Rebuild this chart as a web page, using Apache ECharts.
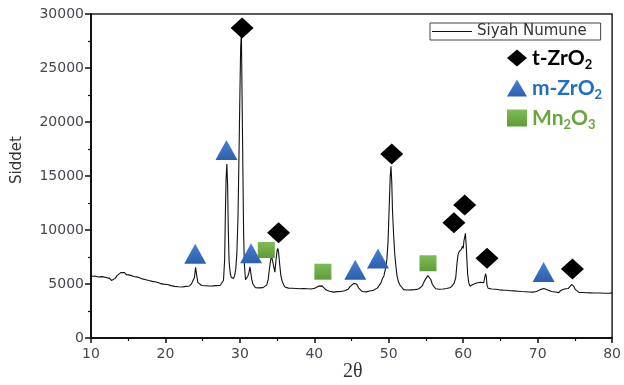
<!DOCTYPE html>
<html>
<head>
<meta charset="utf-8">
<script src="https://cdn.jsdelivr.net/npm/echarts@6/dist/echarts.min.js"></script>
<style>
html,body{margin:0;padding:0;background:#fff;}
#chart{width:624px;height:385px;}
</style>
</head>
<body>
<div id="chart"></div>
<script>
// X-ray diffraction pattern: 2θ (degrees) and intensity (counts)
var twoTheta = [
10.0,10.25,10.5,10.75,11.0,11.25,11.5,11.75,12.0,12.25,12.5,12.75,13.0,13.25,13.5,13.75,14.0,14.25,14.5,14.75,
15.0,15.25,15.5,15.75,16.0,16.25,16.5,16.75,17.0,17.25,17.5,17.75,18.0,18.25,18.5,18.75,19.0,19.25,19.5,19.75,
20.0,20.25,20.5,20.75,21.0,21.25,21.5,21.75,22.0,22.25,22.5,22.75,23.0,23.25,23.5,23.75,23.9,24.05,24.2,24.35,
24.6,24.85,25.1,25.35,25.6,25.85,26.1,26.35,26.6,26.85,27.1,27.35,27.6,27.8,27.95,28.05,28.15,28.25,28.35,28.45,
28.55,28.7,28.85,29.0,29.15,29.3,29.45,29.6,29.75,29.9,30.0,30.1,30.2,30.3,30.4,30.5,30.6,30.75,30.9,31.05,
31.2,31.35,31.45,31.6,31.75,31.9,32.1,32.35,32.6,32.85,33.1,33.35,33.6,33.8,33.95,34.1,34.25,34.4,34.55,34.7,
34.85,35.0,35.1,35.2,35.35,35.5,35.7,35.9,36.1,36.3,36.55,36.8,37.05,37.3,37.55,37.8,38.05,38.3,38.55,38.8,
39.05,39.3,39.55,39.8,40.05,40.3,40.55,40.8,41.05,41.3,41.55,41.8,42.05,42.3,42.55,42.8,43.05,43.3,43.55,43.8,
44.05,44.3,44.55,44.8,45.05,45.3,45.5,45.7,45.95,46.2,46.45,46.7,46.95,47.2,47.45,47.7,47.95,48.2,48.45,48.7,
48.95,49.15,49.35,49.55,49.75,49.9,50.05,50.2,50.3,50.4,50.5,50.65,50.8,50.95,51.1,51.3,51.5,51.75,52.0,52.25,
52.5,52.75,53.0,53.25,53.5,53.75,54.0,54.25,54.5,54.75,55.0,55.25,55.45,55.65,55.85,56.05,56.3,56.55,56.8,57.05,
57.3,57.55,57.8,58.05,58.3,58.55,58.8,59.0,59.15,59.3,59.45,59.6,59.75,59.9,60.0,60.1,60.2,60.3,60.4,60.5,
60.6,60.75,60.9,61.05,61.3,61.55,61.8,62.05,62.3,62.55,62.75,62.9,63.0,63.1,63.2,63.35,63.6,63.85,64.1,64.35,
64.6,64.85,65.1,65.35,65.6,65.85,66.1,66.35,66.6,66.85,67.1,67.35,67.6,67.85,68.1,68.35,68.6,68.85,69.1,69.35,
69.6,69.85,70.1,70.35,70.6,70.85,71.1,71.35,71.6,71.85,72.1,72.35,72.6,72.85,73.1,73.35,73.6,73.85,74.1,74.35,
74.55,74.7,74.85,75.05,75.3,75.55,75.8,76.05,76.3,76.55,76.8,77.05,77.3,77.55,77.8,78.05,78.3,78.55,78.8,79.05,
79.3,79.55,79.8,80.0
];
var intensity = [
5700,5560,5740,5600,5650,5520,5680,5540,5600,5450,5520,5330,5470,5520,5780,5820,6050,5880,6060,5870,
5930,5820,5860,5700,5820,5640,5680,5500,5620,5420,5500,5320,5430,5240,5300,5180,5230,5060,5180,4990,
5080,4960,5020,4850,4990,4780,4860,4740,4830,4720,4900,4780,4950,4820,5020,5150,5600,6550,5800,5150,
5050,4860,5040,4840,5000,4820,4980,4830,5010,4850,4980,4860,5040,5350,7200,11500,14800,16100,14200,9800,
7100,6000,5600,5450,5520,5800,6400,7900,11300,17800,22500,26800,28300,22000,15800,9800,6900,5400,5350,5700,
6000,6600,6500,5400,5000,4850,4650,4820,4640,4790,4660,4810,4900,5400,6300,7100,7600,7450,6600,6100,
7200,8100,8300,7900,6800,5800,5200,4900,4700,4560,4620,4480,4600,4440,4580,4400,4560,4420,4580,4430,
4560,4400,4540,4420,4600,4600,4800,4920,4830,4660,4460,4480,4330,4350,4250,4420,4290,4450,4310,4440,
4380,4500,4520,4760,4850,5060,5080,4980,4620,4510,4300,4360,4270,4420,4350,4510,4420,4600,4620,4850,
5100,5500,5750,6400,7300,8900,12000,15000,15900,14500,11800,9600,7800,6700,5800,5200,4900,4700,4480,4620,
4440,4600,4460,4620,4480,4650,4540,4720,4820,5220,5520,5780,5680,5420,4980,4780,4560,4620,4520,4660,
4540,4680,4580,4740,4680,4880,5100,5600,6800,7700,8000,7950,8200,8500,8300,9000,8900,9700,8600,7200,
5900,5100,4800,4750,4950,5000,5100,5020,5160,5000,5120,5300,5950,5700,4900,4600,4740,4540,4680,4520,
4660,4460,4620,4430,4580,4420,4560,4380,4520,4360,4480,4330,4460,4300,4440,4280,4420,4260,4390,4250,
4400,4300,4460,4480,4600,4580,4600,4440,4440,4300,4300,4260,4300,4200,4400,4380,4540,4420,4580,4700,
4950,5100,4800,4500,4340,4220,4360,4210,4340,4190,4320,4180,4310,4170,4300,4170,4290,4160,4280,4150,
4270,4150,4250,4180
];

// Phase markers (2θ, intensity position)
var tZrO2X = [30.3, 35.2, 50.4, 58.75, 60.2, 63.2, 74.67];
var tZrO2Y = [28700, 9750, 17040, 10680, 12320, 7380, 6390];
var mZrO2X = [24.0, 28.2, 31.5, 45.5, 48.55, 70.8];
var mZrO2Y = [7800, 17400, 7850, 6320, 7350, 6100];
var mn2o3X = [33.55, 41.15, 55.27];
var mn2o3Y = [8150, 6140, 6920];

// Axis ticks
var xTicks = [10, 20, 30, 40, 50, 60, 70, 80];
var yTicks = [0, 5000, 10000, 15000, 20000, 25000, 30000];

function pairs(xs, ys) { return xs.map(function (x, i) { return [x, ys[i]]; }); }

var chart = echarts.init(document.getElementById('chart'), null, {renderer: 'canvas'});
var labelColor = '#4b4450';
var axisFont = 'DejaVu Sans';

function sub(color) {
  return {fontFamily: 'Lato', fontWeight: 'bold', fontSize: 13, lineHeight: 13,
    verticalAlign: 'top', padding: [11, 0, 0, 0], color: color};
}
function main(color) {
  return {fontFamily: 'Lato', fontWeight: 'bold', fontSize: 21, lineHeight: 22, color: color};
}

var option = {
  animation: false,
  backgroundColor: '#fff',
  grid: {left: 91, right: 7, top: 14, bottom: 47, show: true, borderColor: '#222', borderWidth: 1.5},
  xAxis: {
    type: 'value', min: xTicks[0], max: xTicks[xTicks.length - 1], interval: xTicks[1] - xTicks[0],
    axisLine: {lineStyle: {color: '#111', width: 2}},
    axisTick: {length: 5, lineStyle: {color: '#111', width: 1.5}},
    minorTick: {show: true, splitNumber: 2, length: 3, lineStyle: {color: '#111', width: 1.2}},
    splitLine: {show: false},
    axisLabel: {color: labelColor, fontFamily: axisFont, fontSize: 14, margin: 9,
      formatter: function (v) { return String(v); }}
  },
  yAxis: {
    type: 'value', min: yTicks[0], max: yTicks[yTicks.length - 1], interval: yTicks[1] - yTicks[0],
    axisLine: {show: true, lineStyle: {color: '#111', width: 2}},
    axisTick: {show: true, length: 6, lineStyle: {color: '#111', width: 1.5}},
    minorTick: {show: true, splitNumber: 2, length: 3, lineStyle: {color: '#111', width: 1.2}},
    splitLine: {show: false},
    axisLabel: {color: labelColor, fontFamily: axisFont, fontSize: 14, margin: 7,
      formatter: function (v) { return String(v); }}
  },
  legend: [
    {
      data: [{name: 'Siyah Numune', icon: 'rect'}],
      left: 430, top: 23,
      padding: [1, 14, 1, 2],
      borderColor: '#444', borderWidth: 1,
      itemWidth: 40, itemHeight: 1,
      textStyle: {fontFamily: axisFont, fontSize: 15, color: '#333'}
    },
    {
      data: [
        {name: 't-ZrO2', icon: 'diamond'},
        {name: 'm-ZrO2', icon: 'triangle'},
        {name: 'Mn2O3', icon: 'rect'}
      ],
      orient: 'vertical',
      left: 507, top: 47,
      padding: 0,
      itemGap: 6,
      itemWidth: 20, itemHeight: 17,
      formatter: function (name) {
        if (name === 't-ZrO2') return '{k|t-ZrO}{ks|2}';
        if (name === 'm-ZrO2') return '{b|m-ZrO}{bs|2}';
        return '{g|Mn}{gs|2}{g|O}{gs|3}';
      },
      textStyle: {
        rich: {
          k: main('#000'), ks: sub('#000'),
          b: main('#1f6fc6'), bs: sub('#1f6fc6'),
          g: main('#6aa63e'), gs: sub('#6aa63e')
        }
      }
    }
  ],
  graphic: [
    {type: 'text', x: 17, y: 160, rotation: Math.PI / 2,
      style: {text: 'Siddet', fontFamily: axisFont, fontSize: 15, fill: '#333',
        align: 'center', verticalAlign: 'middle'}, z: 10},
    {type: 'text', left: 343, top: 362,
      style: {text: '2θ', fontFamily: 'Liberation Serif', fontSize: 20, fill: '#333'}}
  ],
  series: [
    {
      name: 'Siyah Numune', type: 'line', symbol: 'none',
      data: pairs(twoTheta, intensity),
      lineStyle: {color: '#111', width: 1.1},
      itemStyle: {color: '#111'},
      z: 2
    },
    {
      name: 't-ZrO2', type: 'scatter', symbol: 'diamond', symbolSize: [23, 21],
      data: pairs(tZrO2X, tZrO2Y),
      itemStyle: {color: '#000', opacity: 1}, z: 5
    },
    {
      name: 'm-ZrO2', type: 'scatter', symbol: 'triangle', symbolSize: [22, 20],
      data: pairs(mZrO2X, mZrO2Y),
      itemStyle: {opacity: 1, color: new echarts.graphic.LinearGradient(0, 0, 0, 1, [
        {offset: 0, color: '#4a7fd2'}, {offset: 1, color: '#2d5fb0'}])}, z: 5
    },
    {
      name: 'Mn2O3', type: 'scatter', symbol: 'rect', symbolSize: [17, 16],
      data: pairs(mn2o3X, mn2o3Y),
      itemStyle: {opacity: 1, color: new echarts.graphic.LinearGradient(0, 0, 0, 1, [
        {offset: 0, color: '#80bd55'}, {offset: 1, color: '#5f9b38'}])}, z: 5
    }
  ]
};
chart.setOption(option);
</script>
</body>
</html>
